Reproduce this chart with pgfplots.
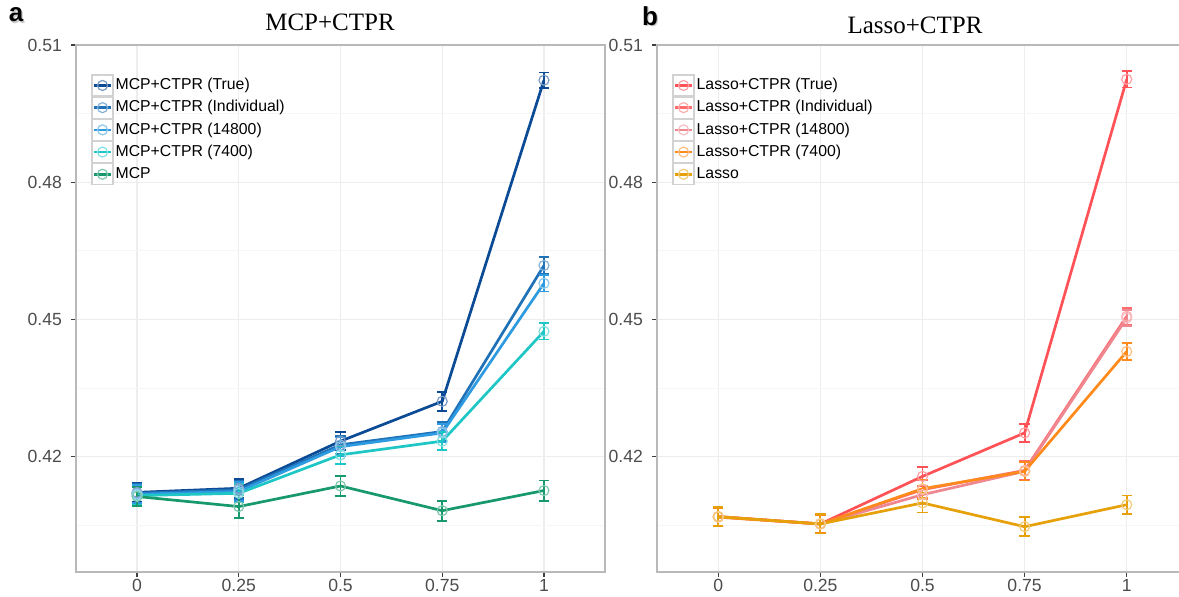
\documentclass[border=0pt]{standalone}
\usepackage{pgfplots}
\pgfplotsset{compat=1.18}
\usepackage{fontspec}
\setmainfont{Liberation Sans}
\newfontfamily\seriffont{Liberation Serif}
\definecolor{mTrue}{HTML}{0B4A94}
\definecolor{mInd}{HTML}{1F72B8}
\definecolor{m148}{HTML}{2E9BE0}
\definecolor{m74}{HTML}{1FC6C6}
\definecolor{mMCP}{HTML}{17996B}
\definecolor{lTrue}{HTML}{FF5257}
\definecolor{lInd}{HTML}{FF6B6E}
\definecolor{l148}{HTML}{EE8790}
\definecolor{l74}{HTML}{FF8A1C}
\definecolor{lLasso}{HTML}{E6A00A}
\pgfplotsset{
  panel/.style={
    scale only axis, width=264.5pt, height=263.5pt,
    xmin=-0.15, xmax=1.15, ymin=0.3948, ymax=0.51,
    xtick={0,0.25,0.5,0.75,1}, xticklabels={0,0.25,0.5,0.75,1},
    ytick={0.42,0.45,0.48,0.51}, yticklabels={0.42,0.45,0.48,0.51},
    minor ytick={0.405,0.435,0.465,0.495}, minor tick length=0pt,
    grid=both, major grid style={gray!14, line width=0.6pt},
    minor grid style={gray!7, line width=0.5pt},
    axis line style={gray!55, line width=0.7pt},
    tick align=outside, major tick length=2.5pt, xtick pos=bottom, ytick pos=left,
    tick style={black!75, line width=0.6pt},
    ticklabel style={font=\fontsize{8.8}{10}\selectfont, text=black!70},
    /pgf/number format/assume math mode=true,
    xticklabel style={yshift=2.2pt}, yticklabel style={xshift=-1pt},
    legend style={at={(0.0284,0.945)}, anchor=north west, draw=none, fill=none,
      inner sep=0pt, row sep=0pt, font=\fontsize{7.9}{9}\selectfont,
      cells={anchor=west}, nodes={inner sep=1pt}},
    legend image code/.code={
      \draw[gray!35, line width=0.6pt, fill=white] (0pt,-5.25pt) rectangle (10.5pt,5.25pt);
      \draw[#1, mark repeat=2, mark phase=2] plot coordinates {(0.8pt,0pt) (5.25pt,0pt) (9.7pt,0pt)};
    },
  },
  ser/.style={color=#1, line width=1.35pt, mark=o, mark size=2.5pt,
    mark options={draw=#1!55, fill=none, line width=0.6pt, solid},
    error bars/.cd, y dir=both, y explicit,
    error bar style={line width=0.9pt, #1},
    error mark options={rotate=90, mark size=2.6pt, line width=0.9pt, #1}},
}
\begin{document}
\begin{tikzpicture}
\path[use as bounding box] (0,0) rectangle (589.5pt,298.5pt);
\begin{axis}[panel, at={(38pt,12.5pt)}, anchor=south west]
\addplot[ser=mTrue] coordinates {(0,0.4122) +- (0,0.0020) (0.25,0.4131) +- (0,0.0020) (0.5,0.4234) +- (0,0.0020) (0.75,0.4321) +- (0,0.0021) (1,0.5023) +- (0,0.0017)};
\addlegendentry{MCP+CTPR (True)}
\addplot[ser=mInd] coordinates {(0,0.4120) +- (0,0.0020) (0.25,0.4128) +- (0,0.0020) (0.5,0.4226) +- (0,0.0020) (0.75,0.4255) +- (0,0.0020) (1,0.4618) +- (0,0.0018)};
\addlegendentry{MCP+CTPR (Individual)}
\addplot[ser=m148] coordinates {(0,0.4118) +- (0,0.0020) (0.25,0.4124) +- (0,0.0020) (0.5,0.4222) +- (0,0.0020) (0.75,0.4252) +- (0,0.0020) (1,0.4579) +- (0,0.0018)};
\addlegendentry{MCP+CTPR (14800)}
\addplot[ser=m74] coordinates {(0,0.4115) +- (0,0.0020) (0.25,0.4120) +- (0,0.0020) (0.5,0.4204) +- (0,0.0020) (0.75,0.4234) +- (0,0.0020) (1,0.4474) +- (0,0.0018)};
\addlegendentry{MCP+CTPR (7400)}
\addplot[ser=mMCP] coordinates {(0,0.4113) +- (0,0.0020) (0.25,0.4091) +- (0,0.0025) (0.5,0.4136) +- (0,0.0022) (0.75,0.4082) +- (0,0.0022) (1,0.4126) +- (0,0.0022)};
\addlegendentry{MCP}
\end{axis}
\begin{axis}[panel, width=265.5pt, at={(328.5pt,12.5pt)}, anchor=south west]
\addplot[ser=lTrue] coordinates {(0,0.4069) +- (0,0.0020) (0.25,0.4053) +- (0,0.0020) (0.5,0.4157) +- (0,0.0021) (0.75,0.4252) +- (0,0.0020) (1,0.5025) +- (0,0.0018)};
\addlegendentry{Lasso+CTPR (True)}
\addplot[ser=lInd] coordinates {(0,0.4069) +- (0,0.0020) (0.25,0.4053) +- (0,0.0020) (0.5,0.4128) +- (0,0.0020) (0.75,0.4170) +- (0,0.0020) (1,0.4507) +- (0,0.0018)};
\addlegendentry{Lasso+CTPR (Individual)}
\addplot[ser=l148] coordinates {(0,0.4068) +- (0,0.0020) (0.25,0.4053) +- (0,0.0020) (0.5,0.4117) +- (0,0.0020) (0.75,0.4168) +- (0,0.0020) (1,0.4503) +- (0,0.0018)};
\addlegendentry{Lasso+CTPR (14800)}
\addplot[ser=l74] coordinates {(0,0.4068) +- (0,0.0020) (0.25,0.4053) +- (0,0.0020) (0.5,0.4130) +- (0,0.0020) (0.75,0.4168) +- (0,0.0020) (1,0.4430) +- (0,0.0018)};
\addlegendentry{Lasso+CTPR (7400)}
\addplot[ser=lLasso] coordinates {(0,0.4069) +- (0,0.0021) (0.25,0.4053) +- (0,0.0021) (0.5,0.4099) +- (0,0.0021) (0.75,0.4047) +- (0,0.0021) (1,0.4095) +- (0,0.0020)};
\addlegendentry{Lasso}
\end{axis}
\node[font=\seriffont\fontsize{12.5}{14}\selectfont] at (165pt,287.5pt) {MCP+CTPR};
\node[font=\seriffont\fontsize{12.5}{14}\selectfont] at (457.5pt,286pt) {Lasso+CTPR};
\node[font=\bfseries\fontsize{13}{14}\selectfont, text=gray!40] at (8.7pt,290.2pt) {a};
\node[font=\bfseries\fontsize{13}{14}\selectfont] at (8pt,291pt) {a};
\node[font=\bfseries\fontsize{13}{14}\selectfont, text=gray!40] at (325.7pt,289.7pt) {b};
\node[font=\bfseries\fontsize{13}{14}\selectfont] at (325pt,290.5pt) {b};
\end{tikzpicture}
\end{document}
